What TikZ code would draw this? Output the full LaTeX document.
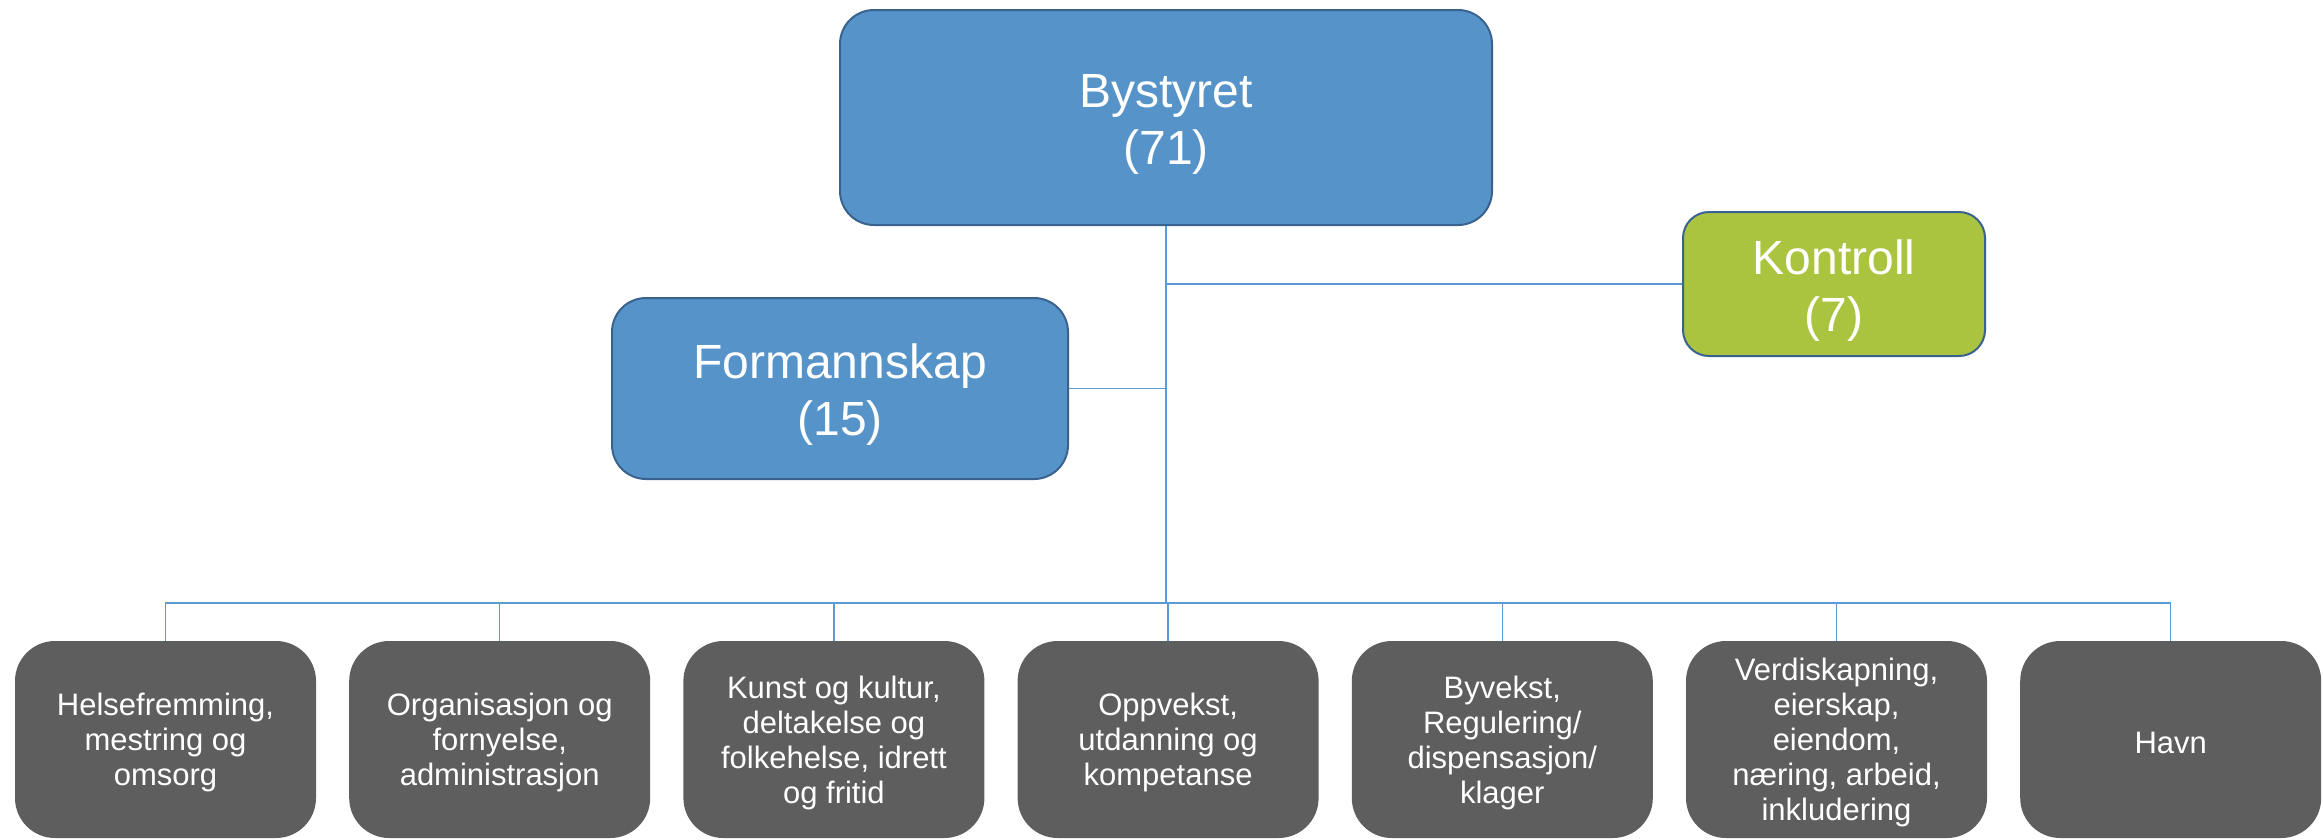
\documentclass[tikz,border=0pt]{standalone}
\usepackage{fontspec}
\setmainfont{Liberation Sans}
\usetikzlibrary{positioning}
\definecolor{boardblue}{RGB}{86,147,201}
\definecolor{boardedge}{RGB}{58,98,142}
\definecolor{controlgreen}{RGB}{170,196,64}
\definecolor{unitgray}{RGB}{94,94,94}
\definecolor{linkblue}{RGB}{91,155,213}
\newcommand{\toplift}{\rule{0pt}{47pt}}
\newcommand{\unitlift}{\rule{0pt}{29pt}}

\begin{document}
\begin{tikzpicture}[
  x=1pt, y=-1pt,
  board/.style={
    rectangle, rounded corners=34pt, draw=boardedge, line width=2pt,
    fill=boardblue, text=white, align=center, inner sep=0pt,
    font=\fontsize{48}{57}\selectfont
  },
  unit/.style={
    rectangle, rounded corners=40pt, fill=unitgray, text=white,
    minimum width=301pt, minimum height=197pt, align=center, inner sep=0pt,
    font=\fontsize{31}{35}\selectfont
  },
  link/.style={draw=linkblue, line width=1.5pt}
]
\useasboundingbox (0,0) rectangle (2323,839);

\node[board, minimum width=652pt, minimum height=215pt] (byst) at (1166,117.5) {\toplift Bystyret\\(71)};
\node[board, minimum width=456pt, minimum height=181pt] (forman) at (840,388.5) {\toplift Formannskap\\(15)};
\node[board, fill=controlgreen, rounded corners=26pt, minimum width=302pt, minimum height=144pt] (kontroll) at (1834,284) {\toplift Kontroll\\(7)};

\node[unit] (u1) at (165.5,739.5) {\unitlift Helsefremming,\\mestring og\\omsorg};
\node[unit, right=32.8pt of u1] (u2) {\unitlift Organisasjon og\\fornyelse,\\administrasjon};
\node[unit, right=32.8pt of u2] (u3) {\unitlift Kunst og kultur,\\deltakelse og\\folkehelse, idrett\\og fritid};
\node[unit, right=32.8pt of u3] (u4) {\unitlift Oppvekst,\\utdanning og\\kompetanse};
\node[unit, right=32.8pt of u4] (u5) {\unitlift Byvekst,\\Regulering/\\dispensasjon/\\klager};
\node[unit, right=32.8pt of u5] (u6) {\unitlift Verdiskapning,\\eierskap,\\eiendom,\\næring, arbeid,\\inkludering};
\node[unit, right=32.8pt of u6] (u7) {\unitlift Havn};

% connectors
\coordinate (busy) at (0,603);
\coordinate (bus) at (byst.south |- busy);
\draw[link] (byst.south) -- (bus);
\draw[link] (kontroll.west) -- (kontroll.west -| byst.south);
\draw[link] (forman.east) -- (forman.east -| byst.south);
\foreach \i in {1,...,7}
  \draw[link] (bus) -| (u\i.north);

\end{tikzpicture}
\end{document}
